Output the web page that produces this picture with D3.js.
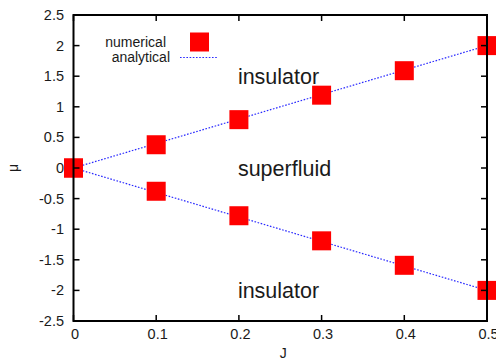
<!DOCTYPE html>
<html>
<head>
<meta charset="utf-8">
<script src="https://cdn.jsdelivr.net/npm/d3@7"></script>
<style>
  body { margin: 0; background: #fff; }
  svg text { font-family: "Liberation Sans", Arial, sans-serif; fill: #1a1a1a; }
</style>
</head>
<body>
<svg id="chart" width="496" height="362"></svg>
<script>
// phase boundary data
const jValues = [0, 0.1, 0.2, 0.3, 0.4, 0.5];
const muUpper = [0, 0.38, 0.79, 1.19, 1.59, 2.0];
const muLower = [0, -0.38, -0.78, -1.19, -1.59, -2.0];
const analyticJ = [0, 0.5];
const analyticUpper = [0, 2];
const analyticLower = [0, -2];
const xTicks = [0, 0.1, 0.2, 0.3, 0.4, 0.5];
const yTicks = [-2.5, -2, -1.5, -1, -0.5, 0, 0.5, 1, 1.5, 2, 2.5];
const regionLabels = ["insulator", "superfluid", "insulator"];
const regionJ = [0.2, 0.2, 0.2];
const regionMu = [1.5, 0, -2];

const LEFT = 73.5, RIGHT = 487, TOP = 15, BOTTOM = 321;
const TICK = 6;

const svg = d3.select("#chart");
const x = d3.scaleLinear().domain([0, 0.5]).range([LEFT, RIGHT]);
const y = d3.scaleLinear().domain([-2.5, 2.5]).range([BOTTOM, TOP]);

// tick labels
const fmt = d => String(d);
svg.append("g").selectAll("text")
  .data(yTicks).enter().append("text")
  .attr("x", LEFT - 9.5)
  .attr("y", d => y(d) + 5)
  .attr("text-anchor", "end")
  .attr("font-size", 14.5)
  .text(fmt);

svg.append("g").selectAll("text")
  .data(xTicks).enter().append("text")
  .attr("x", d => x(d) + 1.5)
  .attr("y", 339)
  .attr("text-anchor", "middle")
  .attr("font-size", 14.5)
  .text(fmt);

// axis titles
svg.append("text")
  .attr("transform", `translate(18,${y(0)}) rotate(-90)`)
  .attr("text-anchor", "middle")
  .attr("font-size", 14)
  .text("μ");
svg.append("text")
  .attr("x", x(0.25) + 3)
  .attr("y", 358)
  .attr("text-anchor", "middle")
  .attr("font-size", 14)
  .text("J");

// region labels
svg.append("g").selectAll("text")
  .data(regionLabels).enter().append("text")
  .attr("x", (d, i) => x(regionJ[i]) - 1)
  .attr("y", (d, i) => y(regionMu[i]) + 8)
  .attr("font-size", 21.5)
  .text(d => d);

// analytical lines
const line = d3.line().x(d => x(d[0])).y(d => y(d[1]));
[analyticUpper, analyticLower].forEach(vals => {
  svg.append("path")
    .datum(analyticJ.map((j, i) => [j, vals[i]]))
    .attr("d", line)
    .attr("fill", "none")
    .attr("stroke", "#2a2aff")
    .attr("stroke-width", 1.2)
    .attr("stroke-dasharray", "1.6,1.6");
});

// numerical markers
const SQ = 19;
const pts = jValues.map((j, i) => [j, muUpper[i]])
  .concat(jValues.map((j, i) => [j, muLower[i]]));
svg.append("g").selectAll("rect")
  .data(pts).enter().append("rect")
  .attr("x", d => x(d[0]) - SQ / 2)
  .attr("y", d => y(d[1]) - SQ / 2)
  .attr("width", SQ)
  .attr("height", SQ)
  .attr("fill", "#ff0000");

// legend
svg.append("text")
  .attr("x", 166).attr("y", 47)
  .attr("text-anchor", "end")
  .attr("font-size", 14)
  .text("numerical");
svg.append("text")
  .attr("x", 170).attr("y", 62)
  .attr("text-anchor", "end")
  .attr("font-size", 14)
  .text("analytical");
svg.append("rect")
  .attr("x", 190).attr("y", 32.5)
  .attr("width", SQ).attr("height", SQ)
  .attr("fill", "#ff0000");
svg.append("line")
  .attr("x1", 180).attr("x2", 218)
  .attr("y1", 57.5).attr("y2", 57.5)
  .attr("stroke", "#2a2aff")
  .attr("stroke-width", 1.2)
  .attr("stroke-dasharray", "1.6,1.6");

// frame and inward ticks on all four sides
const frame = svg.append("g").attr("stroke", "#000").attr("fill", "none");
frame.append("rect")
  .attr("x", LEFT).attr("y", TOP)
  .attr("width", RIGHT - LEFT).attr("height", BOTTOM - TOP)
  .attr("stroke-width", 2);
yTicks.forEach(t => {
  frame.append("line").attr("x1", LEFT).attr("x2", LEFT + TICK)
    .attr("y1", y(t)).attr("y2", y(t)).attr("stroke-width", 1.5);
  frame.append("line").attr("x1", RIGHT).attr("x2", RIGHT - TICK)
    .attr("y1", y(t)).attr("y2", y(t)).attr("stroke-width", 1.5);
});
xTicks.forEach(t => {
  frame.append("line").attr("x1", x(t)).attr("x2", x(t))
    .attr("y1", BOTTOM).attr("y2", BOTTOM - TICK).attr("stroke-width", 1.5);
  frame.append("line").attr("x1", x(t)).attr("x2", x(t))
    .attr("y1", TOP).attr("y2", TOP + TICK).attr("stroke-width", 1.5);
});
</script>
</body>
</html>
